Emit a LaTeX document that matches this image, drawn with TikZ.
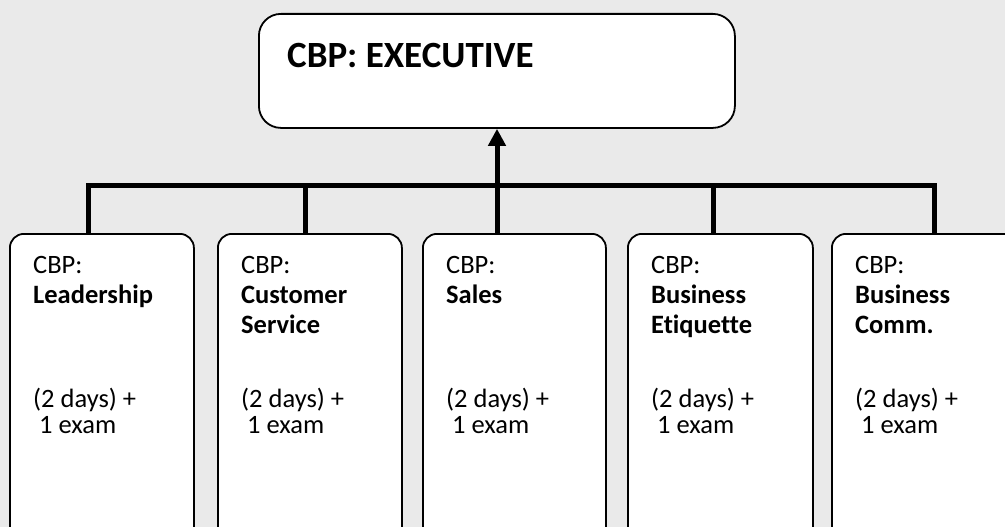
\documentclass[tikz,border=0pt]{standalone}
\usepackage{fontspec}
\setmainfont{Carlito}[Ligatures={NoCommon,NoRequired,NoContextual}]
\usetikzlibrary{arrows.meta,calc}
\definecolor{bg}{RGB}{234,234,234}
\begin{document}
\begin{tikzpicture}[x=1pt,y=-1pt,
  box/.style={draw=black, line width=1.8pt, fill=white, rounded corners=14pt, anchor=north west, inner sep=0pt, minimum height=340pt},
  topbox/.style={draw=black, line width=1.8pt, fill=white, rounded corners=22pt, anchor=north west, inner sep=0pt, minimum width=476pt, minimum height=114pt},
  txt/.style={anchor=base west, inner sep=0pt, font=\fontsize{26.5}{30}\selectfont},
  btxt/.style={anchor=base west, inner sep=0pt, font=\fontsize{26.5}{30}\selectfont\bfseries},
  ttl/.style={anchor=base west, inner sep=0pt, font=\fontsize{37}{40}\selectfont\bfseries},
  bar/.style={line width=5pt, line join=miter},
]
\useasboundingbox (0,0) rectangle (1005,527);
\fill[bg] (0,0) rectangle (1005,527);
\clip (0,0) rectangle (1005,527);

% connectors (drawn below boxes)
\coordinate (d1) at (88,234);
\coordinate (d2) at (305,234);
\coordinate (d3) at (497,234);
\coordinate (d4) at (713,234);
\coordinate (d5) at (934,234);
\coordinate (j1) at (88,185);
\coordinate (j5) at (934,185);
\draw[bar] (d1) -- (j1) -- (j5) -- (d5);
\draw[bar] (d2) -- (d2 |- j1);
\draw[bar] (d4) -- (d4 |- j1);

% top box
\node[topbox] (top) at (258,13) {};
\node[ttl] (title) at ($(top.north west)+(29,54)$) {CBP: EXECUTIVE};

% bottom boxes
\node[box, minimum width=184pt] (b1) at (9,233) {};
\node[box, minimum width=184pt] (b2) at (217,233) {};
\node[box, minimum width=183pt] (b3) at (422,233) {};
\node[box, minimum width=185pt] (b4) at (627,233) {};
\node[box, minimum width=200pt] (b5) at (831,233) {};

% arrow to top box
\draw[bar, -{Triangle[width=17pt,length=17pt]}] (d3) -- (d3 |- top.south);

% texts
\node[txt]  (t1a) at ($(b1.north west)+(24,40)$) {CBP:};
\node[btxt] (t1b) at ($(b1.north west)+(24,70)$) {Leadership};
\node[txt]  (t1c) at ($(b1.north west)+(24,174)$) {(2 days) +};
\node[txt]  (t1d) at ($(b1.north west)+(30,200)$) {1 exam};

\node[txt]  (t2a) at ($(b2.north west)+(24,40)$) {CBP:};
\node[btxt] (t2b) at ($(b2.north west)+(24,70)$) {Customer};
\node[btxt] (t2c) at ($(b2.north west)+(24,100)$) {Service};
\node[txt]  (t2d) at ($(b2.north west)+(24,174)$) {(2 days) +};
\node[txt]  (t2e) at ($(b2.north west)+(30,200)$) {1 exam};

\node[txt]  (t3a) at ($(b3.north west)+(24,40)$) {CBP:};
\node[btxt] (t3b) at ($(b3.north west)+(24,70)$) {Sales};
\node[txt]  (t3c) at ($(b3.north west)+(24,174)$) {(2 days) +};
\node[txt]  (t3d) at ($(b3.north west)+(30,200)$) {1 exam};

\node[txt]  (t4a) at ($(b4.north west)+(24,40)$) {CBP:};
\node[btxt] (t4b) at ($(b4.north west)+(24,70)$) {Business};
\node[btxt] (t4c) at ($(b4.north west)+(24,100)$) {Etiquette};
\node[txt]  (t4d) at ($(b4.north west)+(24,174)$) {(2 days) +};
\node[txt]  (t4e) at ($(b4.north west)+(30,200)$) {1 exam};

\node[txt]  (t5a) at ($(b5.north west)+(24,40)$) {CBP:};
\node[btxt] (t5b) at ($(b5.north west)+(24,70)$) {Business};
\node[btxt] (t5c) at ($(b5.north west)+(24,100)$) {Comm.};
\node[txt]  (t5d) at ($(b5.north west)+(24,174)$) {(2 days) +};
\node[txt]  (t5e) at ($(b5.north west)+(30,200)$) {1 exam};
\end{tikzpicture}
\end{document}
